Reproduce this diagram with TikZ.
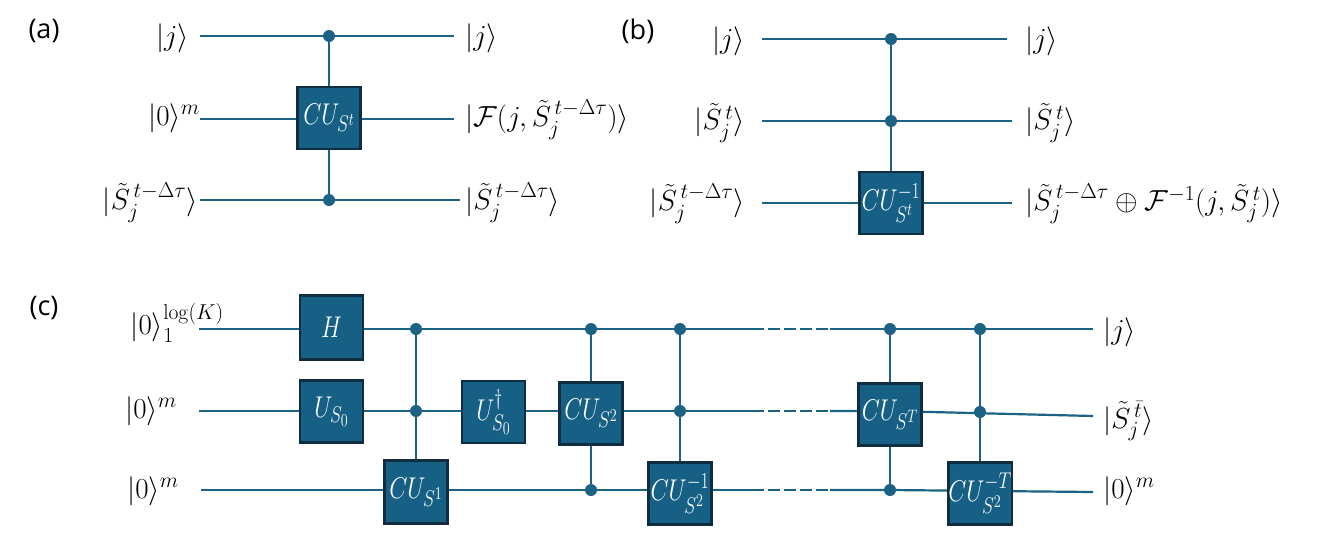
\RequirePackage{fix-cm}
\documentclass[tikz,border=0pt]{standalone}
\usepackage[no-math]{fontspec}
\usepackage{amsmath,amssymb,graphicx}
\setmainfont{Open Sans}
\DeclareMathSizes{25}{25}{19}{15}
\DeclareMathSizes{29}{29}{21.5}{16}
\definecolor{wirec}{HTML}{1B6285}
\definecolor{boxfill}{HTML}{176085}
\definecolor{boxline}{HTML}{0F2E42}
\newcommand{\tS}{\tilde{S}}
\newcommand{\kk}[1]{|#1\rangle}
\newcommand{\gt}[1]{\scalebox{0.94}[1.2]{$#1$}}
\tikzset{
  wire/.style={draw=wirec,line width=2.2pt},
  gate/.style={draw=boxline,line width=2.3pt,fill=boxfill,text=white,minimum width=63pt,minimum height=62pt,inner sep=0pt,font=\fontsize{25}{28}\selectfont},
  dot/.style={circle,fill=wirec,inner sep=0pt,minimum size=12pt},
  lab/.style={inner sep=0pt,font=\fontsize{29}{33}\selectfont},
  llab/.style={lab,anchor=east},
  rlab/.style={lab,anchor=west},
  tag/.style={inner sep=0pt,font=\fontsize{27}{31}\selectfont}
}
\begin{document}
\begin{tikzpicture}[x=1pt,y=-1pt]
\useasboundingbox[fill=white] (0,0) rectangle (1329,549);
% (a)
\node[tag] (ta) at (44,31) {(a)};
\node[llab] (a1) at (189,38) {$\kk{j}$};
\node[llab] (a2) at (200,118) {$\kk{0}^{m}$};
\node[llab] (a3) at (198,203) {$\kk{\tS_j^{\,t-\Delta\tau}}$};
\node[rlab] (b1) at (465,38) {$\kk{j}$};
\node[rlab] (b2) at (465,120) {$\kk{\mathcal{F}(j,\tS_j^{\,t-\Delta\tau})}$};
\node[rlab] (b3) at (465,203) {$\kk{\tS_j^{\,t-\Delta\tau}}$};
\coordinate (as1) at (200,36); \coordinate (ae1) at (454,36);
\coordinate (as2) at (200,119); \coordinate (ae2) at (454,119);
\coordinate (as3) at (200,200); \coordinate (ae3) at (460,200);
\node[dot] (ad1) at (329,36) {};
\node[dot] (ad3) at (329,200) {};
\draw[wire] (as1) -- (ae1);
\draw[wire] (as2) -- (ae2);
\draw[wire] (as3) -- (ae3);
\draw[wire] (ad1) -- (ad3);
\node[gate] (ga) at (329,118) {\gt{CU_{S^{t}}}};
% (b)
\node[tag] (tb) at (638,31) {(b)};
\node[llab] (c1) at (745,41) {$\kk{j}$};
\node[llab] (c2) at (745,123) {$\kk{\tS_j^{\,t}}$};
\node[llab] (c3) at (745,204) {$\kk{\tS_j^{\,t-\Delta\tau}}$};
\node[rlab] (d1) at (1025,41) {$\kk{j}$};
\node[rlab] (d2) at (1025,123) {$\kk{\tS_j^{\,t}}$};
\node[rlab] (d3) at (1025,204) {$\kk{\tS_j^{\,t-\Delta\tau}\oplus\mathcal{F}^{-1}(j,\tS_j^{\,t})}$};
\coordinate (bs1) at (762,39); \coordinate (be1) at (1007,39);
\coordinate (bs2) at (762,121); \coordinate (be2) at (1012,121);
\coordinate (bs3) at (762,203); \coordinate (be3) at (1012,203);
\node[dot] (bd1) at (891,39) {};
\node[dot] (bd2) at (891,121) {};
\node[gate] (gb) at (891,203) {\gt{CU_{S^{t}}^{-1}}};
\draw[wire] (bs1) -- (be1);
\draw[wire] (bs2) -- (be2);
\draw[wire] (bs3) -- (gb.west);
\draw[wire] (gb.east) -- (be3);
\draw[wire] (bd1) -- (gb.north);
% (c)
\node[tag] (tc) at (44,308) {(c)};
\node[llab] (e1) at (224,323) {$\kk{0}_{1}^{\log(K)}$};
\node[llab] (e2) at (177,411) {$\kk{0}^{m}$};
\node[llab] (e3) at (179,491) {$\kk{0}^{m}$};
\node[rlab] (f1) at (1103,332) {$\kk{j}$};
\node[rlab] (f2) at (1103,421) {$\kk{\tS_j^{\,\bar t}}$};
\node[rlab] (f3) at (1103,491) {$\kk{0}^{m}$};
\coordinate (cs1) at (199,329); \coordinate (cd1a) at (752,329); \coordinate (cd1b) at (830,329); \coordinate (ce1) at (1093,329);
\coordinate (cs2) at (199,411); \coordinate (cd2a) at (752,411); \coordinate (cd2b) at (830,411); \coordinate (ce2) at (1093,416);
\coordinate (cs3) at (201,490); \coordinate (cd3a) at (752,490); \coordinate (cd3b) at (830,490); \coordinate (ce3) at (1093,492);
\draw[wire] (cs1) -- (cd1a);
\draw[wire,dash pattern=on 12pt off 4pt] (cd1a) -- (cd1b);
\draw[wire] (cd1b) -- (ce1);
\draw[wire] (cs2) -- (cd2a);
\draw[wire,dash pattern=on 12pt off 4pt] (cd2a) -- (cd2b);
\draw[wire] (cd2b) -- (890,411) -- (ce2);
\draw[wire] (cs3) -- (cd3a);
\draw[wire,dash pattern=on 12pt off 4pt] (cd3a) -- (cd3b);
\draw[wire] (cd3b) -- (890,490) -- (ce3);
\node[dot] (d11) at (416,329) {};
\node[dot] (d12) at (416,411) {};
\node[dot] (d21) at (591,329) {};
\node[dot] (d23) at (591,490) {};
\node[dot] (d31) at (680,329) {};
\node[dot] (d32) at (680,411) {};
\node[dot] (d41) at (890,329) {};
\node[dot] (d43) at (890,490) {};
\node[dot] (d51) at (980,329) {};
\node[dot] (d52) at (980,412) {};
\node[gate,minimum height=64pt] (gh) at (331.5,327.5) {\gt{H}};
\node[gate] (gu) at (331.5,411.5) {\gt{U_{S_0}}};
\node[gate,minimum height=63pt] (g1) at (416,492) {\gt{CU_{S^{1}}}};
\node[gate] (gd) at (493.5,412) {\gt{U_{S_0}^{\dagger}}};
\node[gate] (g2) at (591,413.5) {\gt{CU_{S^{2}}}};
\node[gate] (g3) at (680,493.5) {\gt{CU_{S^{2}}^{-1}}};
\node[gate] (g4) at (890,414.5) {\gt{CU_{S^{T}}}};
\node[gate] (g5) at (980,493.5) {\gt{CU_{S^{2}}^{-T}}};
\draw[wire] (d11) -- (g1.north);
\draw[wire] (d21) -- (g2.north);
\draw[wire] (g2.south) -- (d23);
\draw[wire] (d31) -- (g3.north);
\draw[wire] (d41) -- (g4.north);
\draw[wire] (g4.south) -- (d43);
\draw[wire] (d51) -- (g5.north);
\end{tikzpicture}
\end{document}
